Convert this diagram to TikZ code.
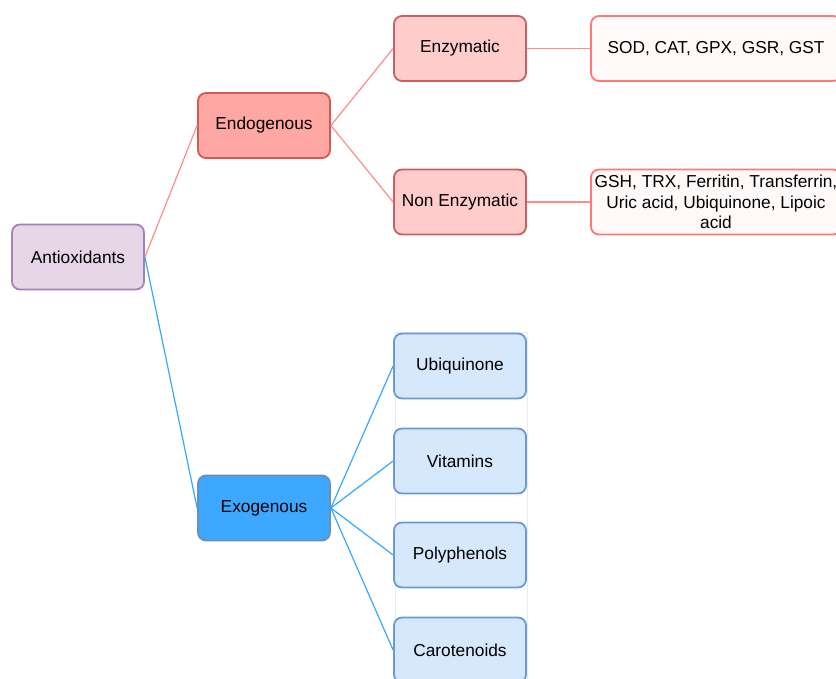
\documentclass[tikz,border=0pt]{standalone}
\usepackage{fontspec}
\setmainfont{Liberation Sans}
\usepackage{tikz}

\definecolor{rootfill}{HTML}{E6D6E8}
\definecolor{rootdraw}{HTML}{A680B8}
\definecolor{endofill}{HTML}{FFA8A3}
\definecolor{endodraw}{HTML}{D05A55}
\definecolor{enzfill}{HTML}{FFCCCC}
\definecolor{enzdraw}{HTML}{CC5E5E}
\definecolor{listfill}{HTML}{FFFAF9}
\definecolor{listdraw}{HTML}{FF7777}
\definecolor{redline}{HTML}{FF8C8C}
\definecolor{exofill}{HTML}{3DA8FF}
\definecolor{exodraw}{HTML}{6C8EBF}
\definecolor{kidfill}{HTML}{D6E8FC}
\definecolor{kiddraw}{HTML}{6C9AD0}
\definecolor{blueline}{HTML}{33AAFF}
\definecolor{framecol}{HTML}{E6ECF6}

\tikzset{
    box/.style = {draw, line width = 1.8pt, rounded corners = 8pt, align = center,
        minimum width = 132pt, minimum height = 65pt, inner sep = 2pt,
        font = {\fontsize{17.3}{20.5}\selectfont}, text = black},
    rootbox/.style = {box, fill = rootfill, draw = rootdraw},
    endobox/.style = {box, fill = endofill, draw = endodraw},
    enzbox/.style = {box, fill = enzfill, draw = enzdraw},
    listbox/.style = {box, fill = listfill, draw = listdraw, minimum width = 250pt},
    exobox/.style = {box, fill = exofill, draw = exodraw},
    kidbox/.style = {box, fill = kidfill, draw = kiddraw},
    redlink/.style = {draw = redline, line width = 1.2pt},
    bluelink/.style = {draw = blueline, line width = 1.2pt}
}

\begin{document}
\begin{tikzpicture}[x = 1pt, y = -1pt]
        \useasboundingbox (0, 0) rectangle (836, 679);
        \clip (0, 0) rectangle (836, 679);

        % frame behind the exogenous column
        \draw[framecol, line width = 1pt] (395, 333) rectangle (527, 690);

        % root
        \node[rootbox] (anti) at (78, 257) {Antioxidants};

        % endogenous branch
        \node[endobox] (endo) at (264, 125.5) {Endogenous};
        \node[enzbox] (enz) at (460, 48.5) {Enzymatic};
        \node[enzbox] (nonenz) at (460, 202) {Non Enzymatic};
        \node[listbox] (enzlist) at (716, 48.5) {SOD, CAT, GPX, GSR, GST};
        \node[listbox] (nonenzlist) at (716, 202) {GSH, TRX, Ferritin, Transferrin,\\ Uric acid, Ubiquinone, Lipoic\\ acid};

        % exogenous branch
        \node[exobox] (exo) at (264, 508) {Exogenous};
        \node[kidbox] (ubi) at (460, 366) {Ubiquinone};
        \node[kidbox] (vit) at (460, 461) {Vitamins};
        \node[kidbox] (poly) at (460, 555) {Polyphenols};
        \node[kidbox] (caro) at (460, 650) {Carotenoids};

        % links
        \draw[redlink] (anti.east) -- (endo.west);
        \draw[redlink] (endo.east) -- (enz.west);
        \draw[redlink] (endo.east) -- (nonenz.west);
        \draw[redlink] (enz.east) -- (enzlist.west);
        \draw[redlink] (nonenz.east) -- (nonenzlist.west);

        \draw[bluelink] (anti.east) -- (exo.west);
        \foreach \kid in {ubi, vit, poly, caro}
            \draw[bluelink] (exo.east) -- (\kid.west);

    \end{tikzpicture}
\end{document}
